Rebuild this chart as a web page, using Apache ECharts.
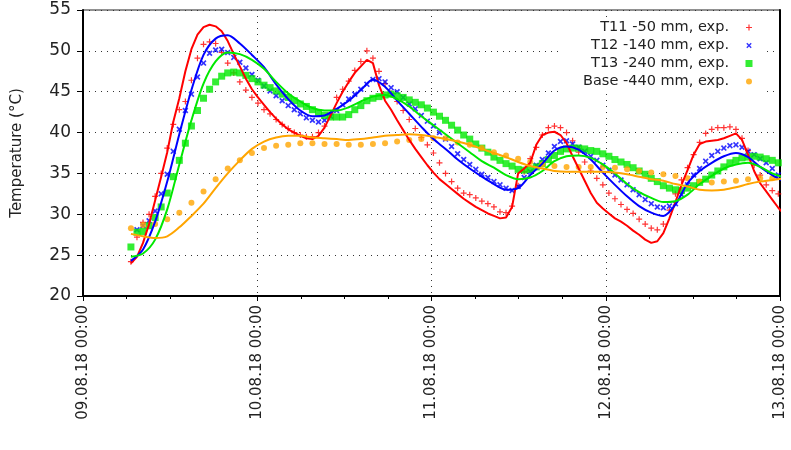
<!DOCTYPE html>
<html><head><meta charset="utf-8">
<script src="https://cdn.jsdelivr.net/npm/echarts@6/dist/echarts.min.js"></script>
<style>html,body{margin:0;padding:0;background:#fff}#c{width:791px;height:450px}</style>
</head><body><div id="c"></div>
<script>
// Sampling grid: hours after 09.08.18 00:00
const START_HOUR = 6.6;
const STEP_HOURS = 50 / 60;
const dayTicks = ['09.08.18 00:00', '10.08.18 00:00', '11.08.18 00:00', '12.08.18 00:00', '13.08.18 00:00'];
const yTicks = [20, 25, 30, 35, 40, 45, 50, 55];

// Experimental (every step)
const t11Exp = [24.2,27.2,29.0,30.0,32.2,35.0,38.1,41.0,42.8,43.8,
46.4,49.1,50.8,51.1,50.9,49.8,48.5,47.3,46.2,45.2,
44.3,43.6,42.8,42.3,41.6,41.0,40.5,40.0,39.7,39.5,
39.5,40.0,40.8,42.4,44.3,45.3,46.3,47.6,48.7,50.0,
49.1,47.5,46.0,44.8,43.8,42.7,41.6,40.5,39.4,38.5,
37.5,36.3,35.0,34.0,33.2,32.6,32.4,32.0,31.6,31.3,
30.9,30.3,30.2,31.0,33.5,35.2,36.8,38.2,39.7,40.6,
40.8,40.6,40.0,39.0,37.6,36.4,35.3,34.4,33.6,32.6,
31.9,31.2,30.6,30.1,29.4,28.8,28.3,28.1,28.8,30.5,
32.5,34.2,35.7,37.3,38.8,39.9,40.4,40.6,40.6,40.7,
40.4,39.3,37.8,36.0,34.8,33.6,32.9,32.5];
const t12Exp = [null,28.1,28.6,29.2,30.4,32.5,34.9,37.7,40.4,42.7,
44.7,46.8,48.5,49.7,50.1,50.2,49.8,49.2,48.6,47.9,
47.1,46.4,45.7,45.1,44.5,43.9,43.3,42.8,42.3,41.8,
41.5,41.3,41.5,42.0,42.7,43.4,44.1,44.7,45.3,45.9,
46.5,46.6,46.2,45.5,45.0,44.3,43.5,42.9,42.1,41.4,
40.8,40.0,39.2,38.3,37.4,36.7,36.1,35.5,34.9,34.5,
34.0,33.6,33.2,32.9,33.4,34.5,35.2,36.0,36.7,37.5,
38.3,38.9,39.0,38.6,38.2,37.7,37.1,36.6,36.0,35.4,
34.8,34.2,33.6,33.0,32.4,31.8,31.3,30.9,30.8,31.0,
31.3,32.4,33.6,34.8,35.6,36.5,37.2,37.7,38.1,38.4,
38.5,38.2,37.7,37.3,36.8,36.3,35.6,34.8];
const t13Exp = [26.0,27.8,27.9,28.6,29.6,30.9,32.6,34.6,36.6,38.7,
40.8,42.7,44.2,45.3,46.2,46.9,47.3,47.4,47.3,47.0,
46.6,46.2,45.8,45.5,45.1,44.7,44.3,43.9,43.5,43.2,
42.8,42.4,42.1,41.9,41.9,41.9,42.2,42.8,43.3,43.9,
44.2,44.4,44.6,44.7,44.5,44.3,44.0,43.7,43.4,43.0,
42.5,42.0,41.5,40.9,40.3,39.7,39.2,38.6,38.1,37.6,
37.0,36.6,36.2,35.9,35.5,35.4,35.5,35.8,36.2,36.7,
37.2,37.7,38.0,38.1,38.1,38.0,37.8,37.7,37.4,37.1,
36.7,36.4,36.1,35.7,35.3,34.9,34.4,34.0,33.5,33.2,
33.0,32.9,33.2,33.5,33.9,34.3,34.8,35.3,35.8,36.3,
36.6,36.9,37.0,37.1,37.0,36.8,36.6,36.3];
// Base experimental (every 2 steps)
const baseExp = [28.3,28.7,28.8,29.4,30.2,31.4,32.8,34.3,35.6,36.6,
37.5,38.1,38.4,38.5,38.7,38.7,38.6,38.6,38.5,38.5,
38.6,38.7,38.9,39.1,39.2,39.3,39.3,38.8,38.5,38.1,
37.6,37.2,36.8,36.4,36.1,35.9,35.8,35.8,35.8,35.8,
35.7,35.5,35.3,35.1,34.9,34.7,34.4,34.0,33.9,34.0,
34.1,34.3,34.4,34.4];

// Simulated: T11 every step, others every 2 steps
const t11Sim = [24.0,24.8,26.5,28.8,31.7,34.6,37.6,41.3,44.2,47.5,
50.2,52.0,52.9,53.2,53.0,52.4,51.2,49.6,48.1,46.6,
45.3,44.3,43.4,42.5,41.7,41.0,40.4,40.0,39.6,39.3,
39.2,39.6,40.6,42.1,43.6,45.0,46.2,47.3,48.1,48.9,
48.5,45.8,43.9,42.8,41.5,40.3,39.1,38.0,37.0,36.0,
35.1,34.3,33.7,33.1,32.5,31.9,31.4,30.9,30.5,30.1,
29.8,29.5,29.6,30.9,35.0,35.6,36.3,38.5,39.7,40.0,
40.1,39.7,38.7,37.1,35.6,34.1,32.6,31.4,30.7,30.1,
29.5,29.1,28.6,28.0,27.5,26.9,26.5,26.7,27.7,29.5,
31.5,33.6,35.4,37.3,38.6,38.9,39.0,39.1,39.3,39.6,
39.9,39.1,37.3,35.3,33.8,32.8,31.8,30.8,30.0];
const t12Sim = [24.3,25.7,29.1,34.0,39.8,45.2,49.5,51.5,51.9,50.9,
49.5,48.0,45.9,44.1,42.7,42.0,42.1,42.9,43.9,45.2,
46.5,45.6,43.9,42.3,40.7,39.2,38.0,36.7,35.6,34.6,
33.7,33.0,33.2,34.8,36.2,37.8,38.3,37.9,36.7,35.1,
33.6,32.2,31.0,30.2,29.8,31.2,33.8,35.3,36.3,37.1,
37.5,37.0,35.8,34.8,34.0];
const t13Sim = [24.8,25.2,26.9,30.6,36.1,41.5,46.0,48.7,49.8,49.6,
48.9,47.8,46.2,44.8,43.8,43.0,42.7,42.7,43.1,43.8,
44.4,44.6,44.1,43.2,42.0,40.9,39.8,38.7,37.6,36.5,
35.7,34.8,34.3,34.5,35.3,36.5,37.1,37.2,36.9,36.1,
35.0,33.7,32.7,32.0,31.5,31.6,32.4,33.7,34.7,35.6,
36.1,36.3,35.8,35.0,34.5];
const baseSim = [27.6,27.3,27.1,27.3,28.4,29.8,31.3,33.2,35.0,36.6,
38.0,38.9,39.4,39.6,39.6,39.4,39.3,39.2,39.1,39.2,
39.4,39.6,39.7,39.8,39.7,39.5,39.2,38.9,38.5,38.0,
37.5,37.0,36.4,35.9,35.6,35.3,35.2,35.2,35.2,35.2,
35.1,34.9,34.6,34.3,34.1,33.7,33.4,33.0,32.9,33.0,
33.3,33.7,34.0,34.2,34.4];

const names = ['T11 -50 mm, exp.', 'T12 -140 mm, exp.', 'T13 -240 mm, exp.', 'Base -440 mm, exp.'];
const colors = ['#ff0000', '#0000ff', '#00e800', '#ffa500'];

function pairs(vals, every) {
  return vals.map((v, i) => [START_HOUR + i * every * STEP_HOURS, v]);
}
const FONT = 'DejaVu Sans';
const pad = 'M0,0L0.01,0L0.01,0.01Z M29.99,13.99L30,13.99L30,14Z ';
const legendIcons = [
  'path://' + pad + 'M12,6.4L14.4,6.4L14.4,4L15.6,4L15.6,6.4L18,6.4L18,7.6L15.6,7.6L15.6,10L14.4,10L14.4,7.6L12,7.6Z',
  'path://' + pad + 'M12.3,5.3L13.3,4.3L15,6L16.7,4.3L17.7,5.3L16,7L17.7,8.7L16.7,9.7L15,8L13.3,9.7L12.3,8.7L14,7Z',
  'path://' + pad + 'M11.5,3.5L18.5,3.5L18.5,10.5L11.5,10.5Z',
  'path://' + pad + 'M12,7A3,3 0 1 0 18,7A3,3 0 1 0 12,7Z'
];
const plusSym = 'path://M0,2.4L2.4,2.4L2.4,0L3.6,0L3.6,2.4L6,2.4L6,3.6L3.6,3.6L3.6,6L2.4,6L2.4,3.6L0,3.6Z';
const xSym = 'path://M0,1.2L1.2,0L3,1.8L4.8,0L6,1.2L4.2,3L6,4.8L4.8,6L3,4.2L1.2,6L0,4.8L1.8,3Z';

const chart = echarts.init(document.getElementById('c'));
chart.setOption({
  animation: false,
  backgroundColor: '#fff',
  grid: { left: 83, right: 11, top: 10, bottom: 154, show: true, borderColor: '#222', borderWidth: 1 },
  legend: {
    orient: 'vertical', right: 25, top: 17, align: 'right',
    itemWidth: 30, itemHeight: 14, itemGap: 3,
    padding: [3, 2, 3, 24], backgroundColor: '#fff',
    textStyle: { fontFamily: FONT, fontSize: 14.5, color: '#222' },
    data: names.map((n, k) => ({ name: n, icon: legendIcons[k] }))
  },
  xAxis: {
    type: 'value', min: 0, max: 96, interval: 24,
    axisLine: { lineStyle: { color: '#000', width: 2 } },
    axisTick: { show: true, length: 5, lineStyle: { color: '#000', width: 1 } },
    minorTick: { show: true, splitNumber: 4, length: 3, lineStyle: { color: '#000' } },
    splitLine: { show: true, lineStyle: { color: '#333', width: 1, type: [1, 5] } },
    axisLabel: {
      rotate: 90, margin: 9, fontFamily: FONT, fontSize: 15, color: '#222',
      formatter: v => dayTicks[Math.round(v / 24)]
    }
  },
  yAxis: [{
    type: 'value', min: 20, max: 55, interval: 5,
    name: 'Temperature (°C)', nameLocation: 'middle', nameGap: 58,
    nameTextStyle: { fontFamily: FONT, fontSize: 15, color: '#222' },
    axisLine: { show: true, lineStyle: { color: '#000', width: 2 } },
    axisTick: { show: true, length: 6, lineStyle: { color: '#000', width: 1 } },
    splitLine: { show: true, lineStyle: { color: '#333', width: 1, type: [1, 5] } },
    axisLabel: { margin: 12, fontFamily: FONT, fontSize: 17, color: '#222',
      formatter: v => String(yTicks[yTicks.indexOf(v)]) }
  }, {
    type: 'value', min: 20, max: 55, interval: 5, position: 'right',
    axisLine: { show: true, lineStyle: { color: '#000', width: 2 } },
    axisTick: { show: false }, axisLabel: { show: false }, splitLine: { show: false }
  }],
  series: [
    { name: names[0], type: 'scatter', symbol: plusSym, symbolSize: 6, data: pairs(t11Exp, 1), itemStyle: { color: colors[0] }, z: 2 },
    { name: names[1], type: 'scatter', symbol: xSym, symbolSize: 6, data: pairs(t12Exp, 1), itemStyle: { color: colors[1] }, z: 2 },
    { name: names[2], type: 'scatter', symbol: 'rect', symbolSize: 7, data: pairs(t13Exp, 1), itemStyle: { color: colors[2] }, z: 2 },
    { name: names[3], type: 'scatter', symbol: 'circle', symbolSize: 6, data: pairs(baseExp, 2), itemStyle: { color: colors[3] }, z: 2 },
    { name: 'T11 sim', type: 'line', showSymbol: false, data: pairs(t11Sim, 1), lineStyle: { color: colors[0], width: 2 }, itemStyle: { color: colors[0] }, z: 3 },
    { name: 'T12 sim', type: 'line', showSymbol: false, smooth: 0.3, data: pairs(t12Sim, 2), lineStyle: { color: colors[1], width: 2 }, itemStyle: { color: colors[1] }, z: 3 },
    { name: 'T13 sim', type: 'line', showSymbol: false, smooth: 0.3, data: pairs(t13Sim, 2), lineStyle: { color: colors[2], width: 2 }, itemStyle: { color: colors[2] }, z: 3 },
    { name: 'Base sim', type: 'line', showSymbol: false, smooth: 0.3, data: pairs(baseSim, 2), lineStyle: { color: colors[3], width: 2 }, itemStyle: { color: colors[3] }, z: 3 }
  ]
});
</script>
</body></html>
